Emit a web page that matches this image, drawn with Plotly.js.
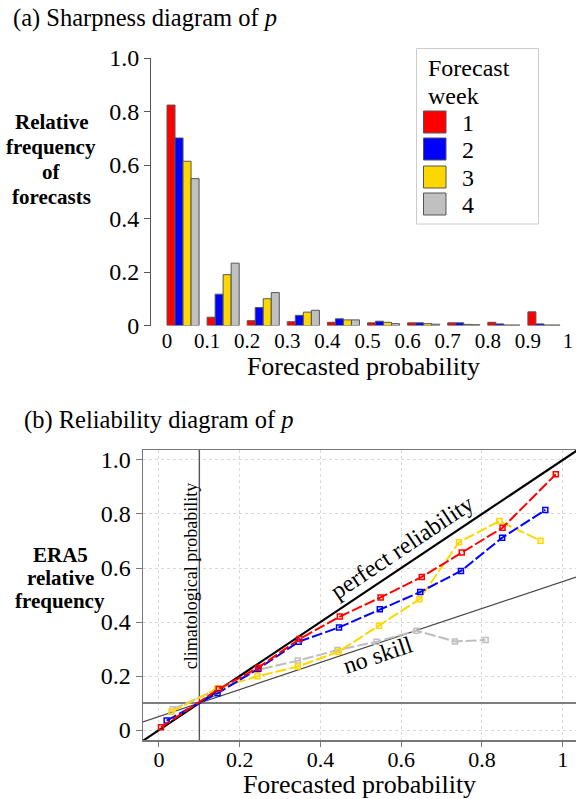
<!DOCTYPE html>
<html><head><meta charset="utf-8">
<script src="https://cdn.plot.ly/plotly-3.0.1.min.js"></script>
<style>html,body{margin:0;padding:0;background:#fff}</style>
</head><body><div id="chart" style="width:576px;height:799px"></div>
<script>
// ---------- data ----------
const binStarts = [0, 0.1, 0.2, 0.3, 0.4, 0.5, 0.6, 0.7, 0.8, 0.9];
const sharpTickVals = [0, 0.1, 0.2, 0.3, 0.4, 0.5, 0.6, 0.7, 0.8, 0.9, 1];
const sharpTickText = ['0', '0.1', '0.2', '0.3', '0.4', '0.5', '0.6', '0.7', '0.8', '0.9', '1'];
const weeks = ['1', '2', '3', '4'];
const weekColors = ['#FF0000', '#0000FF', '#FFD700', '#C0C0C0'];

const sharpWeek1 = [0.824, 0.031, 0.018, 0.014, 0.012, 0.010, 0.010, 0.010, 0.012, 0.051];
const sharpWeek2 = [0.701, 0.117, 0.067, 0.038, 0.025, 0.016, 0.010, 0.010, 0.006, 0.006];
const sharpWeek3 = [0.614, 0.190, 0.100, 0.050, 0.021, 0.012, 0.007, 0.004, 0.002, 0.002];
const sharpWeek4 = [0.549, 0.233, 0.123, 0.057, 0.021, 0.007, 0.005, 0.003, 0.002, 0.002];

const relX1 = [0.005, 0.148, 0.246, 0.348, 0.448, 0.549, 0.651, 0.750, 0.851, 0.983];
const relY1 = [0.010, 0.152, 0.231, 0.337, 0.420, 0.491, 0.567, 0.657, 0.749, 0.947];
const relX2 = [0.019, 0.145, 0.246, 0.346, 0.446, 0.547, 0.647, 0.748, 0.850, 0.957];
const relY2 = [0.035, 0.136, 0.227, 0.327, 0.380, 0.447, 0.511, 0.589, 0.712, 0.815];
const relX3 = [0.031, 0.145, 0.244, 0.344, 0.445, 0.545, 0.645, 0.743, 0.843, 0.945];
const relY3 = [0.068, 0.154, 0.199, 0.235, 0.290, 0.386, 0.484, 0.695, 0.774, 0.701];
const relX4 = [0.034, 0.145, 0.243, 0.344, 0.442, 0.539, 0.638, 0.733, 0.809];
const relY4 = [0.077, 0.150, 0.222, 0.257, 0.296, 0.327, 0.368, 0.328, 0.333];

const relTickVals = [0, 0.2, 0.4, 0.6, 0.8, 1];
const relXTickText = ['0', '0.2', '0.4', '0.6', '0.8', '1'];
const relYTickText = ['0', '0.2', '0.4', '0.6', '0.8', '1.0'];
const climatology = 0.1;

// ---------- build ----------
const W = 576, H = 799;
const px = v => v / W;
const py = v => 1 - v / H;
const FONT = '"Liberation Serif", "Times New Roman", Times, serif';

const sharpSeries = [sharpWeek1, sharpWeek2, sharpWeek3, sharpWeek4];
const relSeries = [[relX1, relY1], [relX2, relY2], [relX3, relY3], [relX4, relY4]];
const barW = 0.02;

const traces = [];
sharpSeries.forEach((vals, i) => {
  traces.push({
    type: 'bar', x: binStarts, y: vals, width: barW, offset: i * barW,
    marker: {color: weekColors[i], line: {color: '#555', width: 1}},
    xaxis: 'x', yaxis: 'y', showlegend: false, name: 'Week ' + weeks[i]
  });
});

// reference lines (bottom panel)
const refX = [-0.1, 1.1];
traces.push({type: 'scatter', mode: 'lines', x: refX, y: refX, xaxis: 'x2', yaxis: 'y2',
  line: {color: '#000', width: 2.2}, showlegend: false, hoverinfo: 'skip'});
traces.push({type: 'scatter', mode: 'lines', x: refX,
  y: refX.map(v => climatology + 0.5 * (v - climatology)), xaxis: 'x2', yaxis: 'y2',
  line: {color: '#444', width: 1.2}, showlegend: false, hoverinfo: 'skip'});
traces.push({type: 'scatter', mode: 'lines', x: [climatology, climatology], y: refX, xaxis: 'x2', yaxis: 'y2',
  line: {color: '#555', width: 1.4}, showlegend: false, hoverinfo: 'skip'});
traces.push({type: 'scatter', mode: 'lines', x: refX, y: [climatology, climatology], xaxis: 'x2', yaxis: 'y2',
  line: {color: '#555', width: 1.4}, showlegend: false, hoverinfo: 'skip'});

[3, 2, 1, 0].forEach(i => {
  traces.push({
    type: 'scatter', mode: 'lines+markers', x: relSeries[i][0], y: relSeries[i][1],
    xaxis: 'x2', yaxis: 'y2', showlegend: false, name: 'Week ' + weeks[i],
    line: {color: weekColors[i] === '#C0C0C0' ? '#BEBEBE' : weekColors[i], width: 2, dash: '11px,3px'},
    marker: {symbol: 'square-open', size: 5, color: weekColors[i], line: {width: 1.5}}
  });
});

const xTickFont = {family: FONT, size: 21, color: '#000'};
const yTickFont = {family: FONT, size: 24, color: '#000'};
const xTitleFont = {family: FONT, size: 26, color: '#000'};

const layout = {
  width: W, height: H,
  margin: {l: 0, r: 0, t: 0, b: 0},
  paper_bgcolor: '#fff', plot_bgcolor: 'rgba(0,0,0,0)',
  barmode: 'overlay',
  font: {family: FONT, color: '#000'},
  xaxis: {
    domain: [px(151), 1], range: [(151 - 167) / 401, (576 - 167) / 401],
    anchor: 'y', showline: false, showgrid: false, zeroline: false, ticks: '',
    tickmode: 'array', tickvals: sharpTickVals, ticktext: sharpTickText,
    tickfont: xTickFont,
    title: {text: 'Forecasted probability', font: xTitleFont, standoff: 4}
  },
  yaxis: {
    domain: [py(325.5), py(58)], range: [0, 1], anchor: 'x',
    showline: true, linecolor: '#555', linewidth: 1, showgrid: false, zeroline: false,
    ticks: 'outside', ticklen: 6, tickcolor: '#555',
    tickmode: 'array', tickvals: relTickVals, ticktext: relYTickText, tickfont: yTickFont
  },
  xaxis2: {
    domain: [px(143), 1], range: [-0.0396, (576 - 159) / 403.7], anchor: 'y2',
    showline: true, mirror: true, linecolor: '#777', linewidth: 1.5,
    showgrid: true, gridcolor: '#D9D9D9', griddash: 'dot', gridwidth: 1, zeroline: false,
    ticks: 'outside', ticklen: 5, tickcolor: '#777', ticklabelstandoff: -6,
    tickmode: 'array', tickvals: relTickVals, ticktext: relXTickText, tickfont: {family: FONT, size: 22, color: '#000'},
    title: {text: 'Forecasted probability', font: xTitleFont, standoff: 2}
  },
  yaxis2: {
    domain: [py(740), py(450)], range: [-0.037, 1.037], anchor: 'x2',
    showline: true, linecolor: '#777', linewidth: 1.5,
    showgrid: true, gridcolor: '#D9D9D9', griddash: 'dot', gridwidth: 1, zeroline: false,
    ticks: 'outside', ticklen: 6, tickcolor: '#777',
    tickmode: 'array', tickvals: relTickVals, ticktext: relYTickText, tickfont: yTickFont
  },
  shapes: [],
  annotations: []
};

// panel titles
layout.annotations.push({xref: 'paper', yref: 'paper', x: px(11), y: py(18), xanchor: 'left', yanchor: 'middle',
  text: '(a) Sharpness diagram of <i>p</i>', showarrow: false, font: {family: FONT, size: 24.5, color: '#000'}});
layout.annotations.push({xref: 'paper', yref: 'paper', x: px(22), y: py(420), xanchor: 'left', yanchor: 'middle',
  text: '(b) Reliability diagram of <i>p</i>', showarrow: false, font: {family: FONT, size: 24.5, color: '#000'}});

// y-axis titles (horizontal, bold)
const ytBold = {family: FONT, size: 21, color: '#000'};
['Relative', 'frequency', 'of', 'forecasts'].forEach((t, i) => {
  layout.annotations.push({xref: 'paper', yref: 'paper', x: px(51), y: py(122 + 25 * i), xanchor: 'center', yanchor: 'middle',
    text: '<b>' + t + '</b>', showarrow: false, font: ytBold});
});
['ERA5', 'relative', 'frequency'].forEach((t, i) => {
  layout.annotations.push({xref: 'paper', yref: 'paper', x: px(60), y: py(555 + 23 * i), xanchor: 'center', yanchor: 'middle',
    text: '<b>' + t + '</b>', showarrow: false, font: ytBold});
});

// reliability annotations
layout.annotations.push({xref: 'x2', yref: 'y2', x: 0.603, y: 0.678, text: 'perfect reliability', showarrow: false,
  textangle: -33.8, font: {family: FONT, size: 24, color: '#000'}});
layout.annotations.push({xref: 'x2', yref: 'y2', x: 0.543, y: 0.278, text: 'no skill', showarrow: false,
  textangle: -18.5, font: {family: FONT, size: 24, color: '#000'}});
layout.annotations.push({xref: 'x2', yref: 'y2', x: 0.0785, y: 0.5685, text: 'climatological probability', showarrow: false,
  textangle: -90, font: {family: FONT, size: 18, color: '#000'}});

// manual legend
layout.shapes.push({type: 'rect', xref: 'paper', yref: 'paper', x0: px(416.5), x1: px(538.5), y0: py(224), y1: py(48.5),
  line: {color: '#CCCCCC', width: 1}, fillcolor: '#fff', layer: 'below'});
layout.annotations.push({xref: 'paper', yref: 'paper', x: px(426), y: py(68), xanchor: 'left', yanchor: 'middle',
  text: 'Forecast', showarrow: false, font: {family: FONT, size: 24, color: '#000'}});
layout.annotations.push({xref: 'paper', yref: 'paper', x: px(426), y: py(96), xanchor: 'left', yanchor: 'middle',
  text: 'week', showarrow: false, font: {family: FONT, size: 24, color: '#000'}});
const legY = [122, 149, 177, 204];
weeks.forEach((w, i) => {
  layout.shapes.push({type: 'rect', xref: 'paper', yref: 'paper', x0: px(423.5), x1: px(446), y0: py(legY[i] + 11), y1: py(legY[i] - 11),
    line: {color: '#555', width: 1}, fillcolor: weekColors[i]});
  layout.annotations.push({xref: 'paper', yref: 'paper', x: px(468), y: py(legY[i] + 1), xanchor: 'center', yanchor: 'middle',
    text: w, showarrow: false, font: {family: FONT, size: 24, color: '#000'}});
});

Plotly.newPlot('chart', traces, layout, {displayModeBar: false, staticPlot: true});
</script></body></html>
